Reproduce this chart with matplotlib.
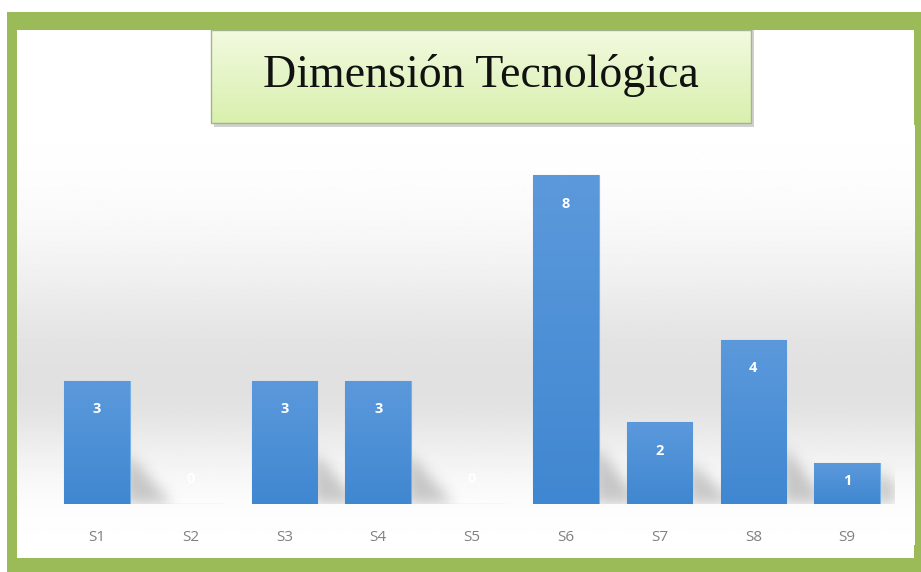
import numpy as np
import matplotlib.pyplot as plt
from matplotlib.patches import Rectangle

categorias = ['S1', 'S2', 'S3', 'S4', 'S5', 'S6', 'S7', 'S8', 'S9']
valores = [3, 0, 3, 3, 0, 8, 2, 4, 1]
titulo = 'Dimensión Tecnológica'

W, H = 921, 572
fig = plt.figure(figsize=(W / 100, H / 100), dpi=100)
fig.patch.set_facecolor('white')


def suavizar(a, sigma):
    # desenfoque gaussiano separable
    r = int(3 * sigma)
    k = np.exp(-0.5 * (np.arange(-r, r + 1) / sigma) ** 2)
    k /= k.sum()
    a = np.apply_along_axis(lambda f: np.convolve(f, k, mode='same'), 0, a)
    a = np.apply_along_axis(lambda f: np.convolve(f, k, mode='same'), 1, a)
    return a


# marco verde exterior
bg = fig.add_axes([0, 0, 1, 1])
bg.axis('off')
bg.add_patch(Rectangle((7, 12), W - 7, H - 12, facecolor='#9bbb59', edgecolor='none'))
bg.add_patch(Rectangle((17, 30), 897, 528, facecolor='white', edgecolor='none'))

# fondo degradado del area de la grafica
ys = np.linspace(125, 545, 400)
tono = np.where(ys < 385,
                1 - 0.12 * np.exp(-((ys - 385) / 130) ** 2),
                1 - 0.12 * np.exp(-((ys - 385) / 80) ** 2))
grad = np.repeat(tono[:, None], 2, axis=1)
bg.imshow(grad, cmap='gray', vmin=0, vmax=1, extent=(17, 914, 545, 125),
          aspect='auto', interpolation='bilinear', zorder=1)

ax = fig.add_axes([50 / W, (H - 504) / H, (894 - 50) / W, (504 - 134) / H])
ax.patch.set_alpha(0)
x = np.arange(len(categorias))

# sombras difusas a la derecha de cada barra
gx = np.linspace(-0.5, len(categorias) - 0.5, 900)
gy = np.linspace(0, 9, 370)
XX, YY = np.meshgrid(gx, gy)
masc = np.zeros_like(XX)
for xi, v in zip(x, valores):
    if v > 0:
        alto = min(0.55 + 0.2 * v, 1.3)
        borde = xi + 0.35 + 0.45 * (1 - YY / alto)
        masc[(XX > xi + 0.3) & (XX < borde) & (YY < alto)] = 1.0
masc = suavizar(masc, 7)
sombra = np.zeros(masc.shape + (4,))
sombra[..., :3] = 0.35
sombra[..., 3] = masc * 0.32
ax.imshow(sombra, extent=(gx[0], gx[-1], 0, 9), origin='lower', aspect='auto',
          interpolation='bilinear', zorder=1)

barras = ax.bar(x, valores, width=0.7, color='#4a8ed6', edgecolor='#78b0e8', linewidth=0.8, zorder=2)

# degradado vertical dentro de cada barra
azul = np.linspace(0, 1, 100)[:, None, None]
tira = np.array([0.36, 0.60, 0.86]) * (1 - azul) + np.array([0.25, 0.53, 0.82]) * azul
tira = np.repeat(tira, 2, axis=1)
for b in barras:
    if b.get_height() > 0:
        im = ax.imshow(tira, extent=(b.get_x(), b.get_x() + b.get_width(), 0, b.get_height()),
                       aspect='auto', interpolation='bilinear', zorder=2.5)
        im.set_clip_path(b)

for xi, v in zip(x, valores):
    y_txt = v - 0.7 if v > 1 else v - 0.45
    if v == 0:
        y_txt = 0.6
    ax.text(xi, y_txt, str(v), ha='center', va='center', color='white', fontsize=10.5,
            fontweight='bold', family='Open Sans', zorder=3)

ax.set_xlim(-0.5, len(categorias) - 0.5)
ax.set_ylim(0, 9)
ax.set_xticks(x)
ax.set_xticklabels(categorias, family='Open Sans', fontsize=11, color='#808080')
ax.tick_params(axis='x', length=0, pad=19)
ax.set_yticks([])
for s in ax.spines.values():
    s.set_visible(False)

# recuadro del titulo
bg.add_patch(Rectangle((214, 30), 540, 97, facecolor='#9a9a9a', edgecolor='none', alpha=0.45, zorder=3))
tg = np.linspace(0, 1, 100)[:, None, None]
verde = np.array([0.95, 0.98, 0.88]) * (1 - tg) + np.array([0.85, 0.94, 0.68]) * tg
verde = np.repeat(verde, 2, axis=1)
bg.imshow(verde, extent=(211, 751, 123, 30), aspect='auto', interpolation='bilinear', zorder=4)
bg.add_patch(Rectangle((211, 30), 540, 93, facecolor='none', edgecolor='#a3b58a', linewidth=1, zorder=5))
bg.text(481, 87, titulo, ha='center', va='baseline', family='Liberation Serif', fontsize=33,
        color='#111111', zorder=6)
bg.set_xlim(0, W)
bg.set_ylim(H, 0)

fig.savefig('out.png', dpi=100)
